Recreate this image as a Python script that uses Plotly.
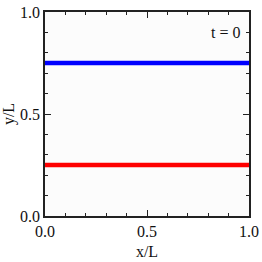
import plotly.graph_objects as go

x_vals = [0.0, 1.0]
y_top = [0.75, 0.75]
y_bottom = [0.25, 0.25]
tick_vals = [0.0, 0.5, 1.0]
tick_text = ["0.0", "0.5", "1.0"]

fig = go.Figure()
fig.add_trace(go.Scatter(x=x_vals, y=y_top, mode="lines",
                         line=dict(color="rgba(0,0,255,0.25)", width=6), hoverinfo="skip"))
fig.add_trace(go.Scatter(x=x_vals, y=y_top, mode="lines",
                         line=dict(color="#0000ff", width=4)))
fig.add_trace(go.Scatter(x=x_vals, y=y_bottom, mode="lines",
                         line=dict(color="rgba(255,0,0,0.25)", width=6), hoverinfo="skip"))
fig.add_trace(go.Scatter(x=x_vals, y=y_bottom, mode="lines",
                         line=dict(color="#ff0000", width=4)))

font = dict(family="Liberation Serif, Times New Roman, serif", size=16, color="#111")
axis_common = dict(range=[0, 1], tickvals=tick_vals, ticktext=tick_text,
                   ticks="inside", ticklen=6, tickwidth=1.2, tickcolor="#222",
                   showline=True, linecolor="#222", linewidth=1.5, mirror="allticks",
                   showgrid=False, zeroline=False, tickfont=font, ticklabeloverflow="allow",
                   automargin=False,
                   minor=dict(dtick=0.1, ticks="inside", ticklen=3, tickwidth=1, tickcolor="#222", showgrid=False))

fig.update_layout(
    width=262, height=262,
    margin=dict(l=45, r=13, t=12, b=46),
    paper_bgcolor="white", plot_bgcolor="#fcfcfc",
    showlegend=False,
    font=font,
    xaxis=dict(**axis_common, title=dict(text="x/L", font=font, standoff=7)),
    yaxis=dict(**axis_common, title=dict(text="y/L", font=font, standoff=4)),
    annotations=[dict(x=0.965, y=0.9, xref="x", yref="y", text="t = 0", showarrow=False,
                      xanchor="right", yanchor="middle",
                      font=dict(family="Liberation Serif, Times New Roman, serif", size=16, color="#111"))],
)
fig.write_html("out.html", config={"displayModeBar": False},
               post_script="document.body.style.margin='0';document.body.style.overflow='hidden';")
